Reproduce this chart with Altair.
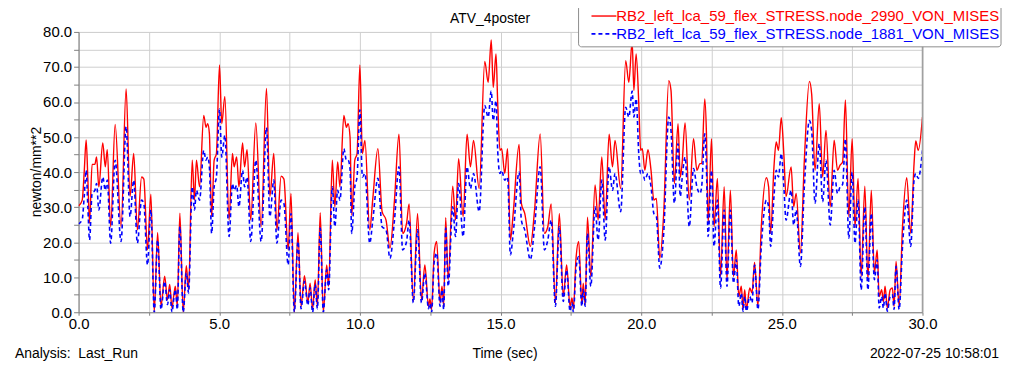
import altair as alt
import pandas as pd

# ---- data ----
time_s = [
    0.00, 0.13, 0.20, 0.27, 0.33, 0.39, 0.48, 0.58, 0.64, 0.72,
    0.86, 0.95, 1.02, 1.14, 1.30, 1.51, 1.69, 1.83, 1.96, 2.09,
    2.24, 2.32, 2.45, 2.57, 2.69, 2.81, 2.93, 3.06, 3.16, 3.24,
    3.32, 3.38, 3.44, 3.51, 3.60, 3.72, 3.83, 3.91, 4.04, 4.12,
    4.19, 4.30, 4.45, 4.53, 4.59, 4.65, 4.73, 4.82, 4.90, 5.01,
    5.09, 5.20, 5.35, 5.47, 5.53, 5.62, 5.70, 5.83, 5.90, 5.99,
    6.12, 6.30, 6.49, 6.68, 6.80, 6.94, 7.05, 7.20, 7.30, 7.45,
    7.55, 7.67, 7.80, 7.91, 8.03, 8.15, 8.23, 8.32, 8.41, 8.49,
    8.59, 8.70, 8.82, 8.89, 9.02, 9.11, 9.21, 9.29, 9.43, 9.52,
    9.58, 9.65, 9.71, 9.82, 9.90, 10.00, 10.09, 10.18, 10.35, 10.46,
    10.64, 10.79, 10.93, 11.07, 11.23, 11.39, 11.52, 11.66, 11.75, 11.90,
    12.05, 12.19, 12.31, 12.44, 12.49, 12.55, 12.64, 12.73, 12.85, 12.92,
    12.98, 13.05, 13.14, 13.30, 13.40, 13.51, 13.67, 13.81, 13.93, 14.04,
    14.24, 14.44, 14.56, 14.67, 14.74, 14.84, 14.90, 14.98, 15.04, 15.15,
    15.25, 15.35, 15.45, 15.66, 15.74, 15.86, 16.06, 16.21, 16.41, 16.56,
    16.68, 16.80, 16.95, 17.09, 17.23, 17.35, 17.47, 17.54, 17.59, 17.68,
    17.78, 17.89, 17.94, 18.01, 18.09, 18.21, 18.36, 18.47, 18.60, 18.72,
    18.86, 18.98, 19.07, 19.27, 19.45, 19.56, 19.68, 19.74, 19.82, 19.92,
    19.98, 20.04, 20.13, 20.24, 20.35, 20.45, 20.54, 20.66, 20.80, 20.98,
    21.06, 21.18, 21.31, 21.39, 21.45, 21.56, 21.71, 21.86, 21.98, 22.09,
    22.15, 22.26, 22.32, 22.38, 22.50, 22.59, 22.71, 22.82, 22.95, 23.05,
    23.17, 23.28, 23.38, 23.47, 23.56, 23.62, 23.68, 23.74, 23.86, 23.94,
    24.03, 24.15, 24.27, 24.45, 24.53, 24.60, 24.72, 24.80, 24.88, 24.98,
    25.07, 25.15, 25.33, 25.42, 25.51, 25.66, 25.80, 25.98, 26.06, 26.18,
    26.33, 26.45, 26.57, 26.72, 26.86, 26.98, 27.07, 27.16, 27.26, 27.38,
    27.50, 27.60, 27.71, 27.82, 27.95, 28.06, 28.18, 28.29, 28.39, 28.46,
    28.55, 28.61, 28.67, 28.75, 28.85, 28.93, 28.99, 29.06, 29.17, 29.29,
    29.44, 29.58, 29.70, 29.76, 29.85, 30.00,
]

node_2990 = [
    30.3, 32.0, 40.0, 49.2, 38.0, 25.4, 42.2, 42.2, 44.3, 35.8,
    48.3, 41.5, 46.4, 24.4, 53.6, 24.4, 63.7, 33.0, 45.3, 23.5,
    38.6, 38.0, 17.8, 33.7, 0.0, 22.7, 1.7, 10.3, 3.6, 7.9,
    1.2, 4.5, 7.4, 1.7, 28.3, 0.0, 13.3, 6.4, 43.4, 32.0,
    43.4, 35.8, 56.2, 52.8, 53.8, 51.0, 27.3, 43.4, 45.3, 70.6,
    53.8, 61.6, 26.3, 45.3, 41.5, 44.3, 35.8, 48.3, 41.5, 46.4,
    26.3, 54.0, 24.4, 63.9, 33.0, 45.3, 23.5, 38.8, 38.0, 17.8,
    33.9, 0.0, 22.7, 1.7, 10.4, 2.7, 8.3, 0.8, 9.3, 1.7,
    28.4, 0.0, 13.5, 7.4, 43.4, 30.1, 42.9, 35.8, 56.2, 52.8,
    53.8, 50.0, 27.7, 43.4, 45.3, 70.6, 45.3, 49.0, 23.5, 32.5,
    46.7, 28.7, 26.3, 18.3, 32.0, 50.8, 22.5, 25.4, 30.9, 3.1,
    28.2, 3.6, 13.5, 1.7, 3.8, 0.8, 16.9, 20.2, 2.7, 7.4,
    1.7, 27.0, 9.3, 36.0, 26.3, 43.8, 27.3, 50.8, 41.5, 49.0,
    35.3, 71.6, 65.6, 77.7, 64.2, 73.7, 59.5, 46.2, 46.7, 39.6,
    46.7, 20.6, 28.2, 47.9, 31.1, 28.2, 18.8, 29.2, 50.9, 22.5,
    24.4, 30.9, 2.7, 28.2, 4.5, 13.5, 1.7, 4.1, 0.8, 15.0,
    20.2, 2.2, 8.3, 2.2, 27.1, 10.2, 36.3, 26.3, 44.3, 26.3,
    50.8, 41.5, 49.0, 35.3, 71.8, 65.6, 77.3, 63.3, 73.7, 58.5,
    46.2, 46.7, 40.5, 46.4, 40.5, 32.0, 32.5, 15.4, 28.2, 66.1,
    63.3, 36.7, 53.8, 38.6, 42.0, 54.0, 32.0, 49.5, 40.5, 42.4,
    42.4, 60.9, 50.9, 25.4, 49.5, 24.4, 38.2, 10.2, 35.8, 9.3,
    34.8, 10.2, 17.8, 4.5, 7.4, 0.8, 6.4, 0.8, 6.9, 5.5,
    14.2, 1.7, 24.4, 38.4, 35.8, 22.5, 41.5, 48.6, 46.2, 55.5,
    45.3, 33.0, 41.5, 30.1, 33.9, 16.9, 43.4, 65.9, 62.3, 40.5,
    59.5, 38.6, 51.9, 30.1, 49.1, 40.5, 42.0, 42.9, 60.6, 27.3,
    49.5, 24.4, 38.2, 10.2, 36.0, 9.3, 34.8, 11.2, 17.8, 4.5,
    6.4, 3.0, 7.4, 1.2, 6.4, 6.9, 1.7, 14.5, 1.7, 24.4,
    38.4, 22.5, 42.4, 48.9, 46.2, 55.7,
]

node_1881 = [
    25.2, 26.5, 33.0, 40.5, 30.0, 20.6, 33.9, 34.8, 36.7, 29.2,
    38.6, 34.8, 37.7, 19.7, 43.4, 20.2, 53.0, 27.3, 37.7, 19.7,
    32.0, 31.0, 13.5, 29.2, 0.0, 20.6, 0.8, 8.8, 2.2, 6.4,
    0.0, 3.5, 6.5, 0.8, 24.4, 0.0, 11.2, 5.5, 35.8, 29.2,
    34.8, 32.0, 46.2, 43.4, 44.3, 41.5, 22.5, 35.8, 38.6, 58.0,
    44.3, 50.5, 21.6, 36.7, 34.8, 36.2, 30.1, 40.5, 35.8, 38.6,
    20.2, 43.4, 20.2, 52.7, 27.3, 37.7, 19.7, 32.0, 31.0, 13.5,
    28.2, 0.0, 20.2, 1.0, 8.8, 2.0, 7.0, 0.0, 8.0, 1.0,
    24.0, 0.0, 12.1, 6.4, 35.8, 24.4, 34.8, 32.0, 46.7, 43.4,
    43.4, 41.0, 22.5, 35.8, 38.6, 57.8, 38.6, 39.6, 19.7, 26.3,
    38.2, 24.4, 23.5, 15.4, 26.3, 41.5, 17.8, 20.2, 26.3, 2.7,
    23.5, 2.7, 11.2, 1.0, 2.5, 0.0, 14.2, 16.9, 1.7, 6.4,
    0.8, 24.0, 7.4, 30.1, 21.6, 36.7, 21.6, 41.5, 35.3, 39.6,
    28.7, 59.0, 55.7, 63.1, 54.7, 60.4, 46.0, 39.6, 40.5, 37.7,
    38.6, 16.4, 22.5, 40.0, 26.3, 23.5, 15.0, 24.4, 41.5, 17.8,
    20.6, 26.3, 1.7, 24.4, 3.1, 12.1, 0.3, 2.7, 0.0, 12.1,
    15.9, 1.7, 6.4, 1.7, 22.5, 7.4, 30.1, 20.6, 37.7, 20.6,
    41.5, 34.8, 39.6, 28.7, 58.5, 55.7, 63.1, 55.7, 60.9, 44.3,
    39.6, 40.5, 37.7, 39.6, 35.8, 28.2, 27.3, 12.6, 22.5, 55.7,
    51.9, 31.1, 48.1, 33.0, 37.7, 44.3, 24.4, 41.0, 35.8, 33.9,
    35.8, 50.9, 41.0, 21.6, 40.5, 18.8, 32.0, 6.9, 29.2, 7.4,
    29.2, 8.3, 15.0, 1.7, 5.5, 0.3, 4.5, 0.3, 4.5, 2.7,
    13.5, 0.8, 18.8, 32.0, 30.1, 18.8, 33.0, 40.5, 38.6, 45.3,
    36.0, 26.3, 34.8, 24.9, 29.2, 13.1, 35.8, 54.7, 51.9, 31.1,
    48.1, 31.5, 43.4, 24.9, 40.5, 33.9, 35.8, 36.5, 49.5, 21.1,
    40.0, 19.7, 32.0, 6.4, 30.1, 6.4, 28.2, 9.3, 15.0, 1.2,
    4.5, 1.2, 5.5, 0.3, 4.5, 5.0, 0.8, 13.1, 0.8, 18.8,
    32.0, 18.8, 37.7, 39.6, 38.2, 46.2,
]

series_names = [
    "RB2_left_lca_59_flex_STRESS.node_2990_VON_MISES",
    "RB2_left_lca_59_flex_STRESS.node_1881_VON_MISES",
]
x_ticks = [i * 2.5 for i in range(13)]
y_ticks = [float(i * 5) for i in range(17)]

W, H = 849, 282
FONT = "Arial, Liberation Sans, sans-serif"
GRID = "#cfcfcf"

n = min(len(time_s), len(node_2990), len(node_1881))
df_red = pd.DataFrame({"t": time_s[:n], "v": node_2990[:n]})
df_blue = pd.DataFrame({"t": time_s[:n], "v": node_1881[:n]})

xscale = alt.Scale(domain=[0, 30], nice=False, zero=False)
yscale = alt.Scale(domain=[0, 80], nice=False, zero=False)

xaxis = alt.Axis(values=x_ticks, labelExpr="datum.value % 5 == 0 ? format(datum.value, '.1f') : ''",
                 title=None, grid=True, gridColor=GRID, domainColor="#808080",
                 tickColor="#808080", tickSize=3, labelFontSize=15, labelColor="black",
                 labelFont=FONT, labelPadding=1, labelFlush=False, labelOverlap=False)
yaxis = alt.Axis(values=y_ticks, labelExpr="datum.value % 10 == 0 ? format(datum.value, '.1f') : ''",
                 title=None, grid=True, gridColor=GRID, domainColor="#808080",
                 tickColor="#808080", tickSize=5, labelFontSize=15, labelColor="black",
                 labelFont=FONT, labelPadding=2, labelFlush=False, labelOverlap=False)

red = alt.Chart(df_red).mark_line(color="#ff0000", strokeWidth=1.4, interpolate="monotone", clip=True).encode(
    x=alt.X("t:Q", scale=xscale, axis=xaxis),
    y=alt.Y("v:Q", scale=yscale, axis=yaxis),
)
blue = alt.Chart(df_blue).mark_line(color="#0000ff", strokeWidth=1.6, strokeDash=[4, 3],
                                     interpolate="monotone", clip=True).encode(
    x=alt.X("t:Q", scale=xscale, axis=xaxis),
    y=alt.Y("v:Q", scale=yscale, axis=yaxis),
)

border = alt.Chart(pd.DataFrame({"t": [30]})).mark_rule(color="#a0a0a0", strokeWidth=1.5).encode(
    x=alt.X("t:Q", scale=xscale, axis=xaxis), y=alt.value(0), y2=alt.value(H)
)

def txt(s, x, y, align="center", size=14, color="black", angle=0):
    return alt.Chart(pd.DataFrame({"s": [s]})).mark_text(
        align=align, baseline="middle", fontSize=size, font=FONT, color=color, angle=angle
    ).encode(x=alt.value(x), y=alt.value(y), text="s:N")

title = txt("ATV_4poster", 414, -13)
ytitle = txt("newton/mm**2", -42, 141, angle=270)
xtitle = txt("Time (sec)", 429, 324)
left_note = txt("Analysis:\u00a0 Last_Run", -64, 324, align="left")
right_note = txt("2022-07-25 10:58:01", 926, 324, align="right")

legend_box = alt.Chart(pd.DataFrame({"a": [0]})).mark_rect(
    fill="white", stroke="#8c8c8c", strokeWidth=1, cornerRadius=3
).encode(x=alt.value(503), x2=alt.value(928), y=alt.value(-27), y2=alt.value(15))
leg_red_line = alt.Chart(pd.DataFrame({"a": [0]})).mark_rule(color="#ff0000", strokeWidth=1.4).encode(
    x=alt.value(516), x2=alt.value(541), y=alt.value(-16))
leg_blue_line = alt.Chart(pd.DataFrame({"a": [0]})).mark_rule(color="#0000ff", strokeWidth=1.6,
                                                              strokeDash=[4, 3]).encode(
    x=alt.value(516), x2=alt.value(541), y=alt.value(2))
leg_red_txt = txt(series_names[0], 541, -16, align="left", size=15, color="#ff0000")
leg_blue_txt = txt(series_names[1], 541, 2, align="left", size=15, color="#0000ff")

chart = alt.layer(
    red, blue, border, title, ytitle, xtitle, left_note, right_note,
    legend_box, leg_red_line, leg_blue_line, leg_red_txt, leg_blue_txt,
).properties(
    width=W, height=H,
    autosize=alt.AutoSizeParams(type="none"),
    padding={"left": 71, "top": 23, "right": 82, "bottom": 52},
).configure_view(stroke=None).configure(background="white")

chart.save("out.html", embed_options={"renderer": "svg", "actions": False})
